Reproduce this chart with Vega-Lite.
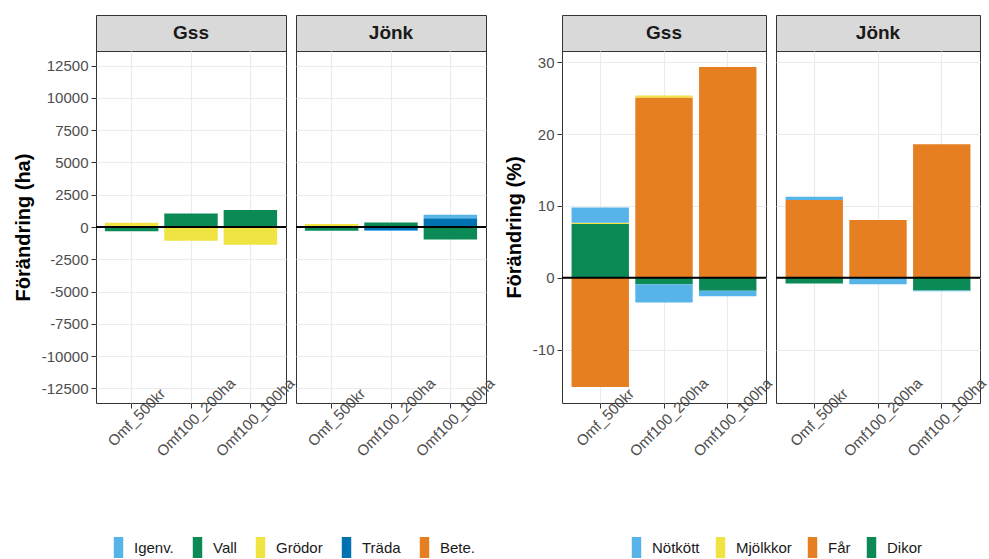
{
 "$schema": "https://vega.github.io/schema/vega-lite/v6.json",
 "padding": {"left": 12, "top": 14, "right": 4, "bottom": 2},
 "bounds": "flush",
 "columns": 5,
 "spacing": {"row": 0, "column": 10},
 "config": {
  "font": "Liberation Sans",
  "view": {"stroke": "#333333", "strokeWidth": 1},
  "axis": {"gridColor": "#EBEBEB", "domain": false, "tickColor": "#333333", "tickSize": 5, "labelColor": "#4D4D4D", "labelFontSize": 15, "labelFont": "Liberation Sans", "titleFont": "Liberation Sans"},
  "legend": {"labelFont": "Liberation Sans"}
 },
 "datasets": {
  "ha": [
   {"region": "Gss", "scen": "Omf_500kr", "cat": "Grödor", "ord": 3, "value": 330},
   {"region": "Gss", "scen": "Omf_500kr", "cat": "Vall", "ord": 2, "value": -330},
   {"region": "Gss", "scen": "Omf100_200ha", "cat": "Vall", "ord": 2, "value": 1050},
   {"region": "Gss", "scen": "Omf100_200ha", "cat": "Grödor", "ord": 3, "value": -1060},
   {"region": "Gss", "scen": "Omf100_100ha", "cat": "Vall", "ord": 2, "value": 1320},
   {"region": "Gss", "scen": "Omf100_100ha", "cat": "Grödor", "ord": 3, "value": -1370},
   {"region": "Jönk", "scen": "Omf_500kr", "cat": "Grödor", "ord": 3, "value": 230},
   {"region": "Jönk", "scen": "Omf_500kr", "cat": "Vall", "ord": 2, "value": -300},
   {"region": "Jönk", "scen": "Omf100_200ha", "cat": "Vall", "ord": 2, "value": 340},
   {"region": "Jönk", "scen": "Omf100_200ha", "cat": "Träda", "ord": 4, "value": -240},
   {"region": "Jönk", "scen": "Omf100_200ha", "cat": "Igenv.", "ord": 1, "value": -70},
   {"region": "Jönk", "scen": "Omf100_100ha", "cat": "Träda", "ord": 4, "value": 680},
   {"region": "Jönk", "scen": "Omf100_100ha", "cat": "Igenv.", "ord": 1, "value": 270},
   {"region": "Jönk", "scen": "Omf100_100ha", "cat": "Vall", "ord": 2, "value": -960}
  ],
  "pct": [
   {"region": "Gss", "scen": "Omf_500kr", "cat": "Dikor", "ord": 4, "value": 7.5},
   {"region": "Gss", "scen": "Omf_500kr", "cat": "Mjölkkor", "ord": 2, "value": 0.15},
   {"region": "Gss", "scen": "Omf_500kr", "cat": "Nötkött", "ord": 1, "value": 2.15},
   {"region": "Gss", "scen": "Omf_500kr", "cat": "Får", "ord": 3, "value": -15.2},
   {"region": "Gss", "scen": "Omf100_200ha", "cat": "Får", "ord": 3, "value": 25.1},
   {"region": "Gss", "scen": "Omf100_200ha", "cat": "Mjölkkor", "ord": 2, "value": 0.3},
   {"region": "Gss", "scen": "Omf100_200ha", "cat": "Dikor", "ord": 4, "value": -0.9},
   {"region": "Gss", "scen": "Omf100_200ha", "cat": "Nötkött", "ord": 1, "value": -2.55},
   {"region": "Gss", "scen": "Omf100_100ha", "cat": "Får", "ord": 3, "value": 29.35},
   {"region": "Gss", "scen": "Omf100_100ha", "cat": "Dikor", "ord": 4, "value": -1.8},
   {"region": "Gss", "scen": "Omf100_100ha", "cat": "Nötkött", "ord": 1, "value": -0.75},
   {"region": "Jönk", "scen": "Omf_500kr", "cat": "Får", "ord": 3, "value": 10.85},
   {"region": "Jönk", "scen": "Omf_500kr", "cat": "Nötkött", "ord": 1, "value": 0.45},
   {"region": "Jönk", "scen": "Omf_500kr", "cat": "Dikor", "ord": 4, "value": -0.8},
   {"region": "Jönk", "scen": "Omf100_200ha", "cat": "Får", "ord": 3, "value": 8.05},
   {"region": "Jönk", "scen": "Omf100_200ha", "cat": "Nötkött", "ord": 1, "value": -0.9},
   {"region": "Jönk", "scen": "Omf100_100ha", "cat": "Får", "ord": 3, "value": 18.6},
   {"region": "Jönk", "scen": "Omf100_100ha", "cat": "Dikor", "ord": 4, "value": -1.75},
   {"region": "Jönk", "scen": "Omf100_100ha", "cat": "Nötkött", "ord": 1, "value": -0.12}
  ]
 },
 "resolve": {"scale": {"color": "independent"}, "legend": {"color": "independent"}},
 "concat": [
  {"width": 190, "height": 36, "view": {"fill": "#D9D9D9", "stroke": "#333333"},
   "data": {"values": [{"region": "Gss"}]},
   "mark": {"type": "text", "fontSize": 19, "fontWeight": "bold", "color": "#1A1A1A", "font": "Liberation Sans"},
   "encoding": {"text": {"field": "region", "type": "nominal"}}},
  {"width": 190, "height": 36, "view": {"fill": "#D9D9D9", "stroke": "#333333"},
   "data": {"values": [{"region": "Jönk"}]},
   "mark": {"type": "text", "fontSize": 19, "fontWeight": "bold", "color": "#1A1A1A", "font": "Liberation Sans"},
   "encoding": {"text": {"field": "region", "type": "nominal"}}},
  {"width": 56, "height": 36, "view": {"stroke": null},
   "data": {"values": [{"region": ""}]},
   "mark": {"type": "text"},
   "encoding": {"text": {"field": "region", "type": "nominal"}}},
  {"width": 204, "height": 36, "view": {"fill": "#D9D9D9", "stroke": "#333333"},
   "data": {"values": [{"region": "Gss"}]},
   "mark": {"type": "text", "fontSize": 19, "fontWeight": "bold", "color": "#1A1A1A", "font": "Liberation Sans"},
   "encoding": {"text": {"field": "region", "type": "nominal"}}},
  {"width": 204, "height": 36, "view": {"fill": "#D9D9D9", "stroke": "#333333"},
   "data": {"values": [{"region": "Jönk"}]},
   "mark": {"type": "text", "fontSize": 19, "fontWeight": "bold", "color": "#1A1A1A", "font": "Liberation Sans"},
   "encoding": {"text": {"field": "region", "type": "nominal"}}},

  {"width": 190, "height": 352,
   "resolve": {"axis": {"y": "independent"}},
   "layer": [
    {"data": {"name": "ha"}, "transform": [{"filter": "datum.region === 'Gss'"}],
     "mark": {"type": "bar"},
     "encoding": {
      "x": {"field": "scen", "type": "nominal", "sort": ["Omf_500kr", "Omf100_200ha", "Omf100_100ha"], "scale": {"paddingInner": 0.1, "paddingOuter": 0.15},
            "axis": {"title": null, "labelAngle": -45, "labelAlign": "center", "labelBaseline": "top", "labelPadding": 4, "bandPosition": 0.5, "grid": true, "gridWidth": 1.2, "labelOverlap": false}},
      "y": {"field": "value", "type": "quantitative", "stack": "zero", "scale": {"domain": [-13640, 13640], "nice": false, "zero": false},
            "axis": {"orient": "left", "title": "Förändring (ha)", "titleFontSize": 20, "titleFontWeight": "bold", "titleColor": "#000000", "titlePadding": 8,
                     "values": [-12500, -10000, -7500, -5000, -2500, 0, 2500, 5000, 7500, 10000, 12500],
                     "labelExpr": "'' + datum.value", "gridWidth": 1.2, "labelOverlap": false, "labelPadding": 3}},
      "color": {"field": "cat", "type": "nominal",
                "scale": {"domain": ["Igenv.", "Vall", "Grödor", "Träda", "Bete."], "range": ["#56B4E9", "#0B8A56", "#F0E442", "#0072B2", "#E67E22"]},
                "legend": {"orient": "none", "legendX": 12, "legendY": 486, "direction": "horizontal", "title": null, "symbolType": "M-0.45,-1H0.45V1H-0.45Z", "symbolSize": 441, "symbolStrokeWidth": 0, "symbolOpacity": 1, "labelFontSize": 15, "labelColor": "#1A1A1A", "labelOffset": 5, "columnPadding": 13, "padding": 0}},
      "order": {"field": "ord", "type": "quantitative", "sort": "descending"}
     }},
    {"data": {"values": [{"value": 0}]}, "mark": {"type": "rule", "color": "#000000", "strokeWidth": 2},
     "encoding": {"y": {"field": "value", "type": "quantitative",
       "axis": {"orient": "left", "title": null, "labels": false, "ticks": false, "values": [-11250, -8750, -6250, -3750, -1250, 1250, 3750, 6250, 8750, 11250], "gridWidth": 0.6}}}}
   ]},
  {"width": 190, "height": 352,
   "resolve": {"axis": {"y": "independent"}},
   "layer": [
    {"data": {"name": "ha"}, "transform": [{"filter": "datum.region === 'Jönk'"}],
     "mark": {"type": "bar"},
     "encoding": {
      "x": {"field": "scen", "type": "nominal", "sort": ["Omf_500kr", "Omf100_200ha", "Omf100_100ha"], "scale": {"paddingInner": 0.1, "paddingOuter": 0.15},
            "axis": {"title": null, "labelAngle": -45, "labelAlign": "center", "labelBaseline": "top", "labelPadding": 4, "bandPosition": 0.5, "grid": true, "gridWidth": 1.2, "labelOverlap": false}},
      "y": {"field": "value", "type": "quantitative", "stack": "zero", "scale": {"domain": [-13640, 13640], "nice": false, "zero": false},
            "axis": {"orient": "left", "title": null, "labels": false, "ticks": false,
                     "values": [-12500, -10000, -7500, -5000, -2500, 0, 2500, 5000, 7500, 10000, 12500], "gridWidth": 1.2}},
      "color": {"field": "cat", "type": "nominal",
                "scale": {"domain": ["Igenv.", "Vall", "Grödor", "Träda", "Bete."], "range": ["#56B4E9", "#0B8A56", "#F0E442", "#0072B2", "#E67E22"]},
                "legend": null},
      "order": {"field": "ord", "type": "quantitative", "sort": "descending"}
     }},
    {"data": {"values": [{"value": 0}]}, "mark": {"type": "rule", "color": "#000000", "strokeWidth": 2},
     "encoding": {"y": {"field": "value", "type": "quantitative",
       "axis": {"orient": "left", "title": null, "labels": false, "ticks": false, "values": [-11250, -8750, -6250, -3750, -1250, 1250, 3750, 6250, 8750, 11250], "gridWidth": 0.6}}}}
   ]},
  {"width": 56, "height": 352, "view": {"stroke": null},
   "data": {"values": [{"region": ""}]},
   "mark": {"type": "text"},
   "encoding": {"text": {"field": "region", "type": "nominal"}}},
  {"width": 204, "height": 352,
   "resolve": {"axis": {"y": "independent"}},
   "layer": [
    {"data": {"name": "pct"}, "transform": [{"filter": "datum.region === 'Gss'"}],
     "mark": {"type": "bar"},
     "encoding": {
      "x": {"field": "scen", "type": "nominal", "sort": ["Omf_500kr", "Omf100_200ha", "Omf100_100ha"], "scale": {"paddingInner": 0.1, "paddingOuter": 0.15},
            "axis": {"title": null, "labelAngle": -45, "labelAlign": "center", "labelBaseline": "top", "labelPadding": 4, "bandPosition": 0.5, "grid": true, "gridWidth": 1.2, "labelOverlap": false}},
      "y": {"field": "value", "type": "quantitative", "stack": "zero", "scale": {"domain": [-17.43, 31.58], "nice": false, "zero": false},
            "axis": {"orient": "left", "title": "Förändring (%)", "titleFontSize": 20, "titleFontWeight": "bold", "titleColor": "#000000", "titlePadding": 8,
                     "values": [-10, 0, 10, 20, 30],
                     "labelExpr": "'' + datum.value", "gridWidth": 1.2, "labelOverlap": false, "labelPadding": 3}},
      "color": {"field": "cat", "type": "nominal",
                "scale": {"domain": ["Nötkött", "Mjölkkor", "Får", "Dikor"], "range": ["#56B4E9", "#F0E442", "#E67E22", "#0B8A56"]},
                "legend": {"orient": "none", "legendX": 64, "legendY": 486, "direction": "horizontal", "title": null, "symbolType": "M-0.45,-1H0.45V1H-0.45Z", "symbolSize": 441, "symbolStrokeWidth": 0, "symbolOpacity": 1, "labelFontSize": 15, "labelColor": "#1A1A1A", "labelOffset": 5, "columnPadding": 10, "padding": 0}},
      "order": {"field": "ord", "type": "quantitative", "sort": "descending"}
     }},
    {"data": {"values": [{"value": 0}]}, "mark": {"type": "rule", "color": "#000000", "strokeWidth": 2},
     "encoding": {"y": {"field": "value", "type": "quantitative",
       "axis": {"orient": "left", "title": null, "labels": false, "ticks": false, "values": [-15, -5, 5, 15, 25], "gridWidth": 0.6}}}}
   ]},
  {"width": 204, "height": 352,
   "resolve": {"axis": {"y": "independent"}},
   "layer": [
    {"data": {"name": "pct"}, "transform": [{"filter": "datum.region === 'Jönk'"}],
     "mark": {"type": "bar"},
     "encoding": {
      "x": {"field": "scen", "type": "nominal", "sort": ["Omf_500kr", "Omf100_200ha", "Omf100_100ha"], "scale": {"paddingInner": 0.1, "paddingOuter": 0.15},
            "axis": {"title": null, "labelAngle": -45, "labelAlign": "center", "labelBaseline": "top", "labelPadding": 4, "bandPosition": 0.5, "grid": true, "gridWidth": 1.2, "labelOverlap": false}},
      "y": {"field": "value", "type": "quantitative", "stack": "zero", "scale": {"domain": [-17.43, 31.58], "nice": false, "zero": false},
            "axis": {"orient": "left", "title": null, "labels": false, "ticks": false,
                     "values": [-10, 0, 10, 20, 30], "gridWidth": 1.2}},
      "color": {"field": "cat", "type": "nominal",
                "scale": {"domain": ["Nötkött", "Mjölkkor", "Får", "Dikor"], "range": ["#56B4E9", "#F0E442", "#E67E22", "#0B8A56"]},
                "legend": null},
      "order": {"field": "ord", "type": "quantitative", "sort": "descending"}
     }},
    {"data": {"values": [{"value": 0}]}, "mark": {"type": "rule", "color": "#000000", "strokeWidth": 2},
     "encoding": {"y": {"field": "value", "type": "quantitative",
       "axis": {"orient": "left", "title": null, "labels": false, "ticks": false, "values": [-15, -5, 5, 15, 25], "gridWidth": 0.6}}}}
   ]}
 ]
}
